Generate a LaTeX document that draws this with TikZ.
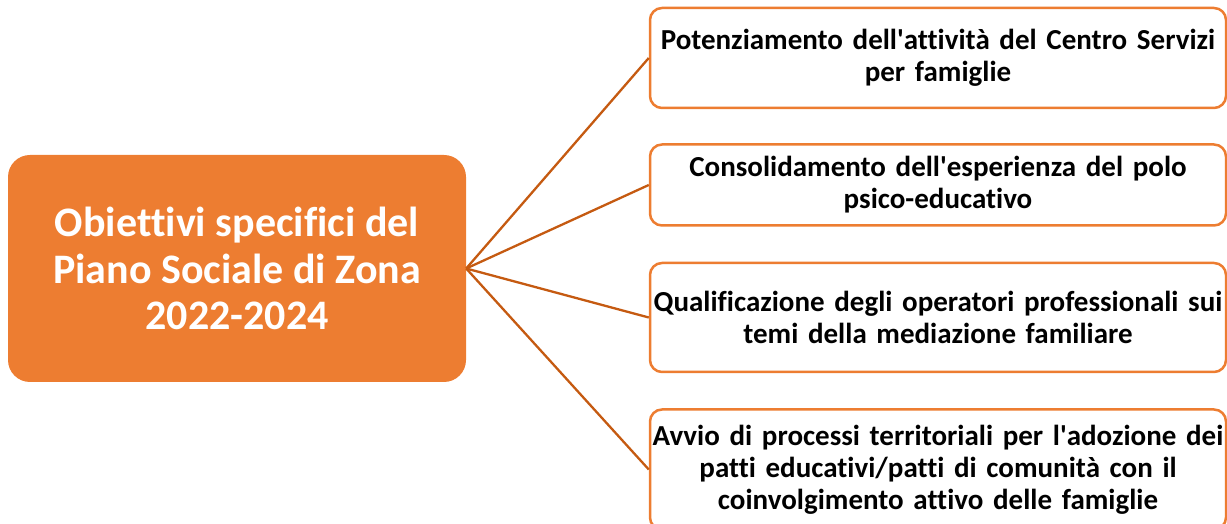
\documentclass[tikz,border=0pt]{standalone}
\usepackage{fontspec}
\setmainfont{Carlito}[Ligatures={NoCommon}]
\usetikzlibrary{positioning}
\definecolor{accent}{HTML}{ED7D31}
\definecolor{linkcol}{HTML}{C55A11}
\newcommand{\apo}{\textquotesingle}
\tikzstyle{goal} = [rectangle, rounded corners=22pt, fill=accent, text=white, align=center, font=\bfseries\fontsize{42}{46.7}\selectfont, minimum width=458pt, minimum height=227pt]
\tikzstyle{aim} = [rectangle, rounded corners=12pt, draw=accent, line width=2.5pt, fill=white, align=center, text width=572pt, inner xsep=2pt, font=\bfseries\fontsize{29}{31.8}\selectfont]
\tikzstyle{link} = [linkcol, line width=2.3pt]

\begin{document}
\begin{tikzpicture}[x=1pt, y=1pt, node distance=35pt]
        \useasboundingbox (0,0) rectangle (1227,524);
        \node[goal] (goal) at (237,255.5) {Obiettivi specifici del\\Piano Sociale di Zona\\2022-2024};
        \node[aim, minimum height=100pt] (aim1) at (938,466) {Potenziamento dell\apo attività del Centro Servizi\\per famiglie};
        \node[aim, minimum height=81pt, below=34pt of aim1] (aim2) {Consolidamento dell\apo esperienza del polo\\psico-educativo};
        \node[aim, minimum height=109pt, below=of aim2] (aim3) {Qualificazione degli operatori professionali sui\\temi della mediazione familiare};
        \node[aim, minimum height=120pt, below=of aim3] (aim4) {Avvio di processi territoriali per l\apo adozione dei\\patti educativi/patti di comunità con il\\coinvolgimento attivo delle famiglie};
        \draw[link] (goal.east) -- (aim1.west);
        \draw[link] (goal.east) -- (aim2.west);
        \draw[link] (goal.east) -- (aim3.west);
        \draw[link] (goal.east) -- (aim4.west);
    \end{tikzpicture}
\end{document}
